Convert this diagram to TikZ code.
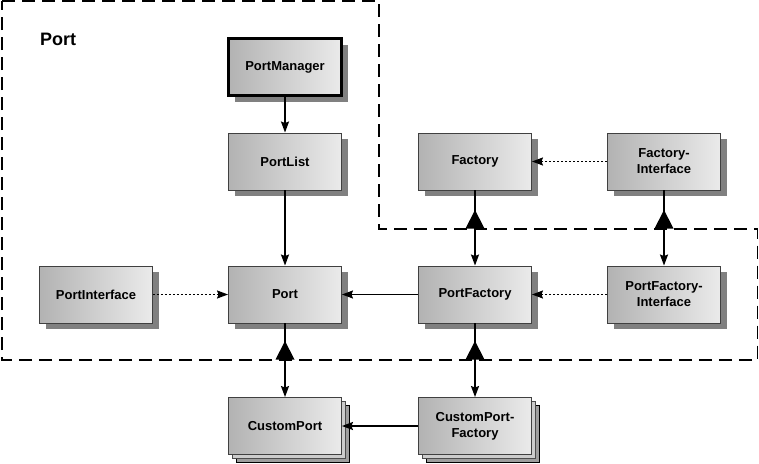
\documentclass[tikz,border=0pt]{standalone}
\usepackage{fontspec}
\setmainfont{Liberation Sans}
\usetikzlibrary{arrows.meta,shadows}
\definecolor{boxline}{HTML}{404040}
\definecolor{shadowgray}{HTML}{808080}
\tikzset{
  box/.style={rectangle, draw=boxline, line width=0.9pt, left color=black!30, right color=black!8,
    minimum width=113pt, minimum height=57pt, inner sep=0pt, align=center,
    font=\bfseries\fontsize{13}{16}\selectfont,
    general shadow={shadow xshift=6pt, shadow yshift=-6pt, fill=shadowgray, draw=none}},
  boldbox/.style={box, draw=black, line width=2.6pt},
  stackbox/.style={rectangle, draw=boxline, line width=0.9pt, left color=black!30, right color=black!8,
    minimum width=113pt, minimum height=57pt, inner sep=0pt, align=center,
    font=\bfseries\fontsize{13}{16}\selectfont,
    general shadow={shadow xshift=8pt, shadow yshift=-8pt, fill=black!38, draw=black, line width=0.9pt},
    general shadow={shadow xshift=4pt, shadow yshift=-4pt, fill=black!20, draw=black!70, line width=0.9pt}},
  conn/.style={line width=1.6pt, -{Stealth[length=11pt,width=8pt,inset=1.5pt]}},
  dotconn/.style={conn, dash pattern=on 2.4pt off 1.6pt},
  boundary/.style={line width=1.6pt, dash pattern=on 13pt off 7pt},
  gentri/.style={fill=black}
}
\begin{document}
\begin{tikzpicture}[x=1pt,y=-1pt]
\useasboundingbox (0,0) rectangle (759,463);
\draw[boundary] (2,1) -- (379,1) -- (379,229) -- (757.5,229) -- (757.5,360) -- (2,360) -- cycle;
\node[font=\bfseries\fontsize{18}{20}\selectfont, anchor=base west, inner sep=0pt] (title) at (40,45) {Port};

\node[boldbox] (PortManager) at (285,67) {PortManager};
\node[box] (PortList) at (285,161.5) {PortList};
\node[box] (Port) at (285,294.5) {Port};
\node[box] (PortInterface) at (96,294.5) {PortInterface};
\node[box] (PortFactory) at (475,294.5) {PortFactory};
\node[box] (PortFactoryInterface) at (664,294.5) {PortFactory-\\Interface};
\node[box] (Factory) at (475,161.5) {Factory};
\node[box] (FactoryInterface) at (664,161.5) {Factory-\\Interface};
\node[stackbox] (CustomPort) at (285,426) {CustomPort};
\node[stackbox] (CustomPortFactory) at (475,426) {CustomPort-\\Factory};

\draw[conn] (PortManager.south) -- (PortList.north);
\draw[conn] (PortList.south) -- (Port.north);
\draw[dotconn] (PortInterface.east) -- (Port.west);
\draw[conn] (PortFactory.west) -- (Port.east);
\draw[dotconn] (PortFactoryInterface.west) -- (PortFactory.east);
\draw[dotconn] (FactoryInterface.west) -- (Factory.east);
\draw[conn] (Factory.south) -- (PortFactory.north);
\draw[conn] (FactoryInterface.south) -- (PortFactoryInterface.north);
\draw[conn] (Port.south) -- (CustomPort.north);
\draw[conn] (PortFactory.south) -- (CustomPortFactory.north);
\draw[conn] (CustomPortFactory.west) -- (CustomPort.east);

\coordinate (t1) at (475,228.5);
\coordinate (t2) at (664,228.5);
\coordinate (t3) at (285,359.5);
\coordinate (t4) at (475,359.5);
\foreach \t in {t1,t2,t3,t4}
  \fill[gentri] (\t) ++(-9.5,0) -- ++(9.5,-18.5) -- ++(9.5,18.5) -- cycle;
\end{tikzpicture}
\end{document}
